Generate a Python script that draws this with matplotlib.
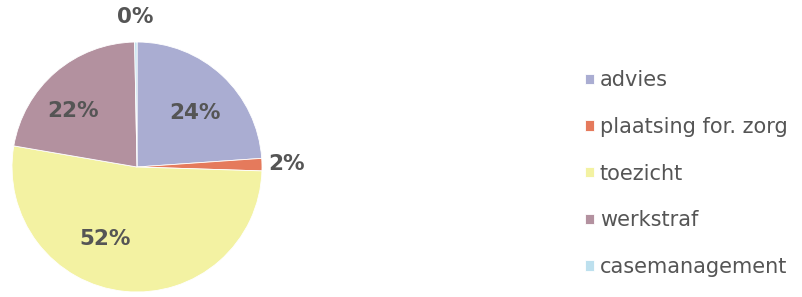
import matplotlib
matplotlib.use("Agg")
import matplotlib.pyplot as plt
import numpy as np

categorieen = ["advies", "plaatsing for. zorg", "toezicht", "werkstraf", "casemanagement"]
aandelen = [23.9, 1.6, 52.2, 22.0, 0.3]
kleuren = ["#aaadd2", "#e57a5c", "#f3f2a2", "#b3919f", "#bde0ee"]

# afstand van het label tot het midden (in straal-eenheden)
label_afstand = [0.63, 1.2, 0.63, 0.68, 1.2]
label_hoek_extra = [-4, 0, -18, 8, 0]

fig = plt.figure(figsize=(8.03, 2.97), dpi=100)
W, H = 803, 297
cx, cy, r = 137, 297 - 167, 125
ax = fig.add_axes([(cx - r) / W, (cy - r) / H, 2 * r / W, 2 * r / H])

wedges, _ = ax.pie(aandelen, colors=kleuren, startangle=90, counterclock=False,
                   radius=1, wedgeprops=dict(edgecolor="white", linewidth=0.6))
ax.set_xlim(-1, 1)
ax.set_ylim(-1, 1)
ax.set_aspect("equal")
ax.axis("off")

for w, waarde, d, extra in zip(wedges, aandelen, label_afstand, label_hoek_extra):
    hoek = np.deg2rad((w.theta1 + w.theta2) / 2 + extra)
    ax.text(d * np.cos(hoek), d * np.sin(hoek), "%d%%" % round(waarde),
            ha="center", va="center", fontsize=15.5, fontweight="bold",
            color="#555555", clip_on=False)

leg = fig.legend(wedges, categorieen, loc="upper left",
                 bbox_to_anchor=(577 / W, 1 - 62 / H), frameon=False,
                 fontsize=15, handlelength=0.4, handleheight=0.4,
                 handletextpad=0.3, labelspacing=1.28, borderaxespad=0)
for t in leg.get_texts():
    t.set_color("#555555")

fig.savefig("out.png", dpi=100)
